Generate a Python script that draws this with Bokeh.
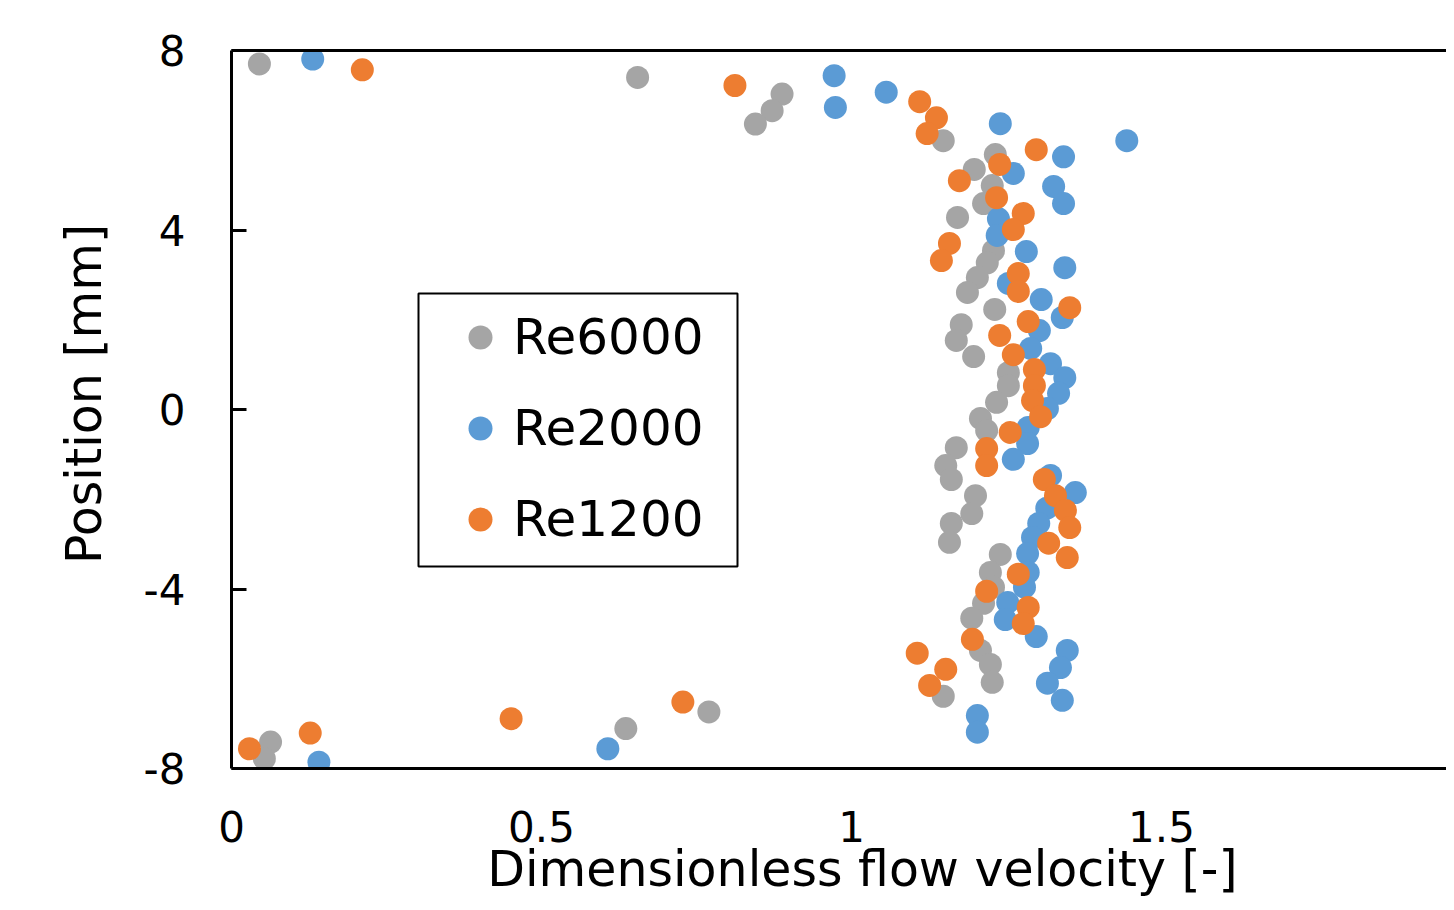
from bokeh.plotting import figure
from bokeh.models import (Legend, LegendItem, FixedTicker, LinearAxis, Range1d,
                          ColumnDataSource, BoxAnnotation)
from bokeh.embed import file_html
from bokeh.resources import INLINE

# ---- data ----
re6000_v = [0.045, 0.655, 0.888, 0.872, 0.845, 1.148, 1.232, 1.198, 1.227, 1.213, 1.171,
            1.229, 1.219, 1.203, 1.187, 1.231, 1.177, 1.169, 1.197, 1.253, 1.253, 1.234,
            1.208, 1.218, 1.169, 1.152, 1.161, 1.200, 1.194, 1.161, 1.158, 1.240, 1.224,
            1.229, 1.213, 1.194, 1.208, 1.224, 1.227, 1.148, 0.770, 0.636, 0.063, 0.053]
re6000_pos = [7.70, 7.40, 7.03, 6.66, 6.36, 5.99, 5.68, 5.35, 4.99, 4.59, 4.28,
              3.54, 3.27, 2.94, 2.61, 2.23, 1.89, 1.54, 1.18, 0.82, 0.53, 0.16,
              -0.20, -0.47, -0.85, -1.25, -1.56, -1.92, -2.32, -2.54, -2.96, -3.23, -3.63,
              -3.96, -4.32, -4.65, -5.37, -5.68, -6.08, -6.39, -6.74, -7.11, -7.41, -7.78]

re2000_v = [0.131, 0.972, 1.056, 0.974, 1.240, 1.444, 1.342, 1.261, 1.326, 1.342, 1.237,
            1.235, 1.282, 1.344, 1.253, 1.306, 1.340, 1.303, 1.289, 1.321, 1.344, 1.334,
            1.316, 1.285, 1.284, 1.261, 1.321, 1.361, 1.315, 1.302, 1.292, 1.284, 1.285,
            1.279, 1.252, 1.248, 1.298, 1.348, 1.337, 1.316, 1.340, 1.203, 1.203, 0.607, 0.141]
re2000_pos = [7.81, 7.44, 7.07, 6.73, 6.37, 5.99, 5.63, 5.26, 4.97, 4.59, 4.25,
              3.88, 3.52, 3.16, 2.81, 2.45, 2.05, 1.76, 1.36, 1.02, 0.71, 0.36,
              0.02, -0.40, -0.76, -1.11, -1.47, -1.85, -2.20, -2.54, -2.85, -3.21, -3.63,
              -3.96, -4.30, -4.68, -5.06, -5.37, -5.75, -6.10, -6.48, -6.82, -7.19, -7.56, -7.86]

re1200_v = [0.211, 0.812, 1.110, 1.137, 1.122, 1.298, 1.239, 1.174, 1.234, 1.277, 1.261,
            1.158, 1.145, 1.269, 1.269, 1.352, 1.285, 1.239, 1.261, 1.295, 1.295, 1.292,
            1.305, 1.256, 1.218, 1.218, 1.311, 1.329, 1.345, 1.352, 1.318, 1.348, 1.269,
            1.218, 1.285, 1.277, 1.195, 1.106, 1.152, 1.126, 0.728, 0.451, 0.127, 0.029]
re1200_pos = [7.57, 7.22, 6.86, 6.50, 6.15, 5.79, 5.46, 5.10, 4.72, 4.37, 4.01,
              3.70, 3.32, 3.03, 2.63, 2.27, 1.96, 1.65, 1.22, 0.89, 0.53, 0.20,
              -0.16, -0.51, -0.87, -1.25, -1.56, -1.92, -2.25, -2.63, -2.98, -3.30, -3.67,
              -4.05, -4.41, -4.77, -5.12, -5.43, -5.79, -6.15, -6.52, -6.89, -7.21, -7.56]

series_names = ["Re6000", "Re2000", "Re1200"]
series_colors = ["#A5A5A5", "#5B9BD5", "#ED7D31"]

x_ticks = [0, 0.5, 1, 1.5]
x_tick_labels = ["0", "0.5", "1", "1.5"]
y_ticks = [-8, -4, 0, 4, 8]
y_tick_labels = ["-8", "-4", "0", "4", "8"]

x_title = "Dimensionless flow velocity [-]"
y_title = "Position [mm]"

FONT = "DejaVu Sans"
NBSP = "\u00a0"

# ---- figure ----
FIG_W, FIG_H = 1446, 902
LEFT, TOP = 231, 50
FRAME_BOTTOM = 768
BOTTOM = FIG_H - FRAME_BOTTOM
frame_w = FIG_W - LEFT
px_per_unit = 620.0

p = figure(width=FIG_W, height=FIG_H, output_backend="svg", toolbar_location=None,
           x_range=Range1d(0, frame_w / px_per_unit), y_range=Range1d(-8, 8),
           min_border_left=LEFT, min_border_top=TOP, min_border_bottom=BOTTOM,
           min_border_right=0, x_axis_location="below", y_axis_location="left")
p.outline_line_color = None
p.grid.visible = False
p.background_fill_color = "white"
p.border_fill_color = "white"

renderers = []
for xs, ys, name, col in [(re6000_v, re6000_pos, series_names[0], series_colors[0]),
                          (re2000_v, re2000_pos, series_names[1], series_colors[1]),
                          (re1200_v, re1200_pos, series_names[2], series_colors[2])]:
    src = ColumnDataSource(dict(x=xs, y=ys))
    r = p.scatter("x", "y", source=src, size=23, marker="circle",
                  fill_color=col, line_color=None)
    renderers.append(r)

# x axis
xa = p.xaxis[0]
xa.ticker = FixedTicker(ticks=x_ticks)
xa.major_label_overrides = {t: l for t, l in zip(x_ticks, x_tick_labels)}
xa.major_tick_in = 0
xa.major_tick_out = 0
xa.minor_tick_in = 0
xa.minor_tick_out = 0
xa.axis_line_width = 3
xa.axis_line_color = "black"
xa.major_label_standoff = 42
xa.major_label_text_font = FONT
xa.major_label_text_font_size = "42px"
xa.major_label_text_color = "black"
xa.axis_label = NBSP * 3 + x_title
xa.axis_label_text_font = FONT
xa.axis_label_text_font_size = "49px"
xa.axis_label_text_font_style = "normal"
xa.axis_label_text_color = "black"
xa.axis_label_standoff = -4

# y axis
ya = p.yaxis[0]
ya.ticker = FixedTicker(ticks=y_ticks)
ya.major_label_overrides = {t: l for t, l in zip(y_ticks, y_tick_labels)}
ya.major_tick_in = 15
ya.major_tick_out = 0
ya.major_tick_line_width = 3
ya.minor_tick_in = 0
ya.minor_tick_out = 0
ya.axis_line_width = 3
ya.axis_line_color = "black"
ya.major_label_standoff = 46
ya.major_label_text_font = FONT
ya.major_label_text_font_size = "42px"
ya.major_label_text_color = "black"
ya.axis_label = NBSP * 2 + y_title
ya.axis_label_text_font = FONT
ya.axis_label_text_font_size = "49px"
ya.axis_label_text_font_style = "normal"
ya.axis_label_text_color = "black"
ya.axis_label_standoff = 28

# top frame line
top_axis = LinearAxis(ticker=FixedTicker(ticks=[]), major_label_text_font_size="0px",
                      axis_line_width=3, axis_line_color="black",
                      major_tick_in=0, major_tick_out=0, minor_tick_in=0, minor_tick_out=0)
p.add_layout(top_axis, "above")

# legend frame (screen units relative to the plot frame)
p.add_layout(BoxAnnotation(left=187, right=506, bottom=202, top=475,
                           left_units="screen", right_units="screen",
                           bottom_units="screen", top_units="screen",
                           fill_color="white", fill_alpha=1.0,
                           line_color="black", line_width=2, line_alpha=1.0))

legend = Legend(items=[LegendItem(label=n, renderers=[r]) for n, r in zip(series_names, renderers)],
                location=(216, 219), margin=0, padding=0, spacing=31,
                label_height=60, glyph_height=60, glyph_width=66,
                label_standoff=0, label_text_font=FONT, label_text_font_size="50px",
                label_text_color="black", border_line_color=None,
                background_fill_alpha=0.0)
p.add_layout(legend)

open("out.html", "w").write(file_html(p, INLINE))
